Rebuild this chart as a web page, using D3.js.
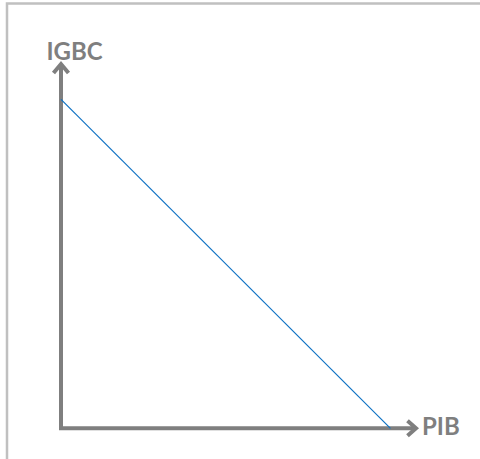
<!DOCTYPE html>
<html>
<head>
<meta charset="utf-8">
<script src="https://cdn.jsdelivr.net/npm/d3@7"></script>
<style>
  html, body { margin: 0; padding: 0; background: #fff; }
  svg { display: block; }
</style>
</head>
<body>
<div id="chart"></div>
<script>
// Data (abstract units, axes run 0..100)
const axisLabels = ["PIB", "IGBC"];
const lineX = [0, 92.8];
const lineY = [90.3, 0];

const W = 480, H = 459;
const svg = d3.select("#chart").append("svg").attr("width", W).attr("height", H);

// Outer frame (extends beyond the bottom/right edges)
svg.append("rect")
  .attr("x", 7).attr("y", 3.5)
  .attr("width", 520).attr("height", 520)
  .attr("fill", "none").attr("stroke", "#c0c0c0").attr("stroke-width", 2.5);

const x = d3.scaleLinear().domain([0, 100]).range([61, 416]);
const y = d3.scaleLinear().domain([0, 100]).range([428.3, 64]);

const gray = "#7f7f7f";

// Axes as arrows
const g = svg.append("g");
g.append("path")
  .attr("d", `M${x(0)},${y(100)} L${x(0)},${y(0)} L${x(100)},${y(0)}`)
  .attr("fill", "none").attr("stroke", gray).attr("stroke-width", 4)
  .attr("stroke-linejoin", "miter");

// Arrowheads
g.append("path")
  .attr("d", `M${x(0) - 7.5},${y(100) + 9} L${x(0)},${y(100)} L${x(0) + 7.5},${y(100) + 9}`)
  .attr("fill", "none").attr("stroke", gray).attr("stroke-width", 4)
  .attr("stroke-linejoin", "miter").attr("stroke-linecap", "butt");
g.append("path")
  .attr("d", `M${x(100) - 8.5},${y(0) - 7.5} L${x(100)},${y(0)} L${x(100) - 8.5},${y(0) + 7.5}`)
  .attr("fill", "none").attr("stroke", gray).attr("stroke-width", 4)
  .attr("stroke-linejoin", "miter").attr("stroke-linecap", "butt");

// Data line
const pts = lineX.map((v, i) => [v, lineY[i]]);
svg.append("path")
  .datum(pts)
  .attr("d", d3.line().x(d => x(d[0])).y(d => y(d[1])))
  .attr("fill", "none").attr("stroke", "#0f72c4").attr("stroke-width", 1.2);

// Labels
svg.append("text")
  .attr("x", 46.5).attr("y", 60)
  .attr("font-family", "Lato, 'Open Sans', sans-serif")
  .attr("font-weight", "bold").attr("font-size", 24)
  .attr("fill", gray)
  .text(axisLabels[1]);

svg.append("text")
  .attr("x", 422).attr("y", 435)
  .attr("font-family", "Lato, 'Open Sans', sans-serif")
  .attr("font-weight", "bold").attr("font-size", 24)
  .attr("fill", gray)
  .text(axisLabels[0]);
</script>
</body>
</html>
